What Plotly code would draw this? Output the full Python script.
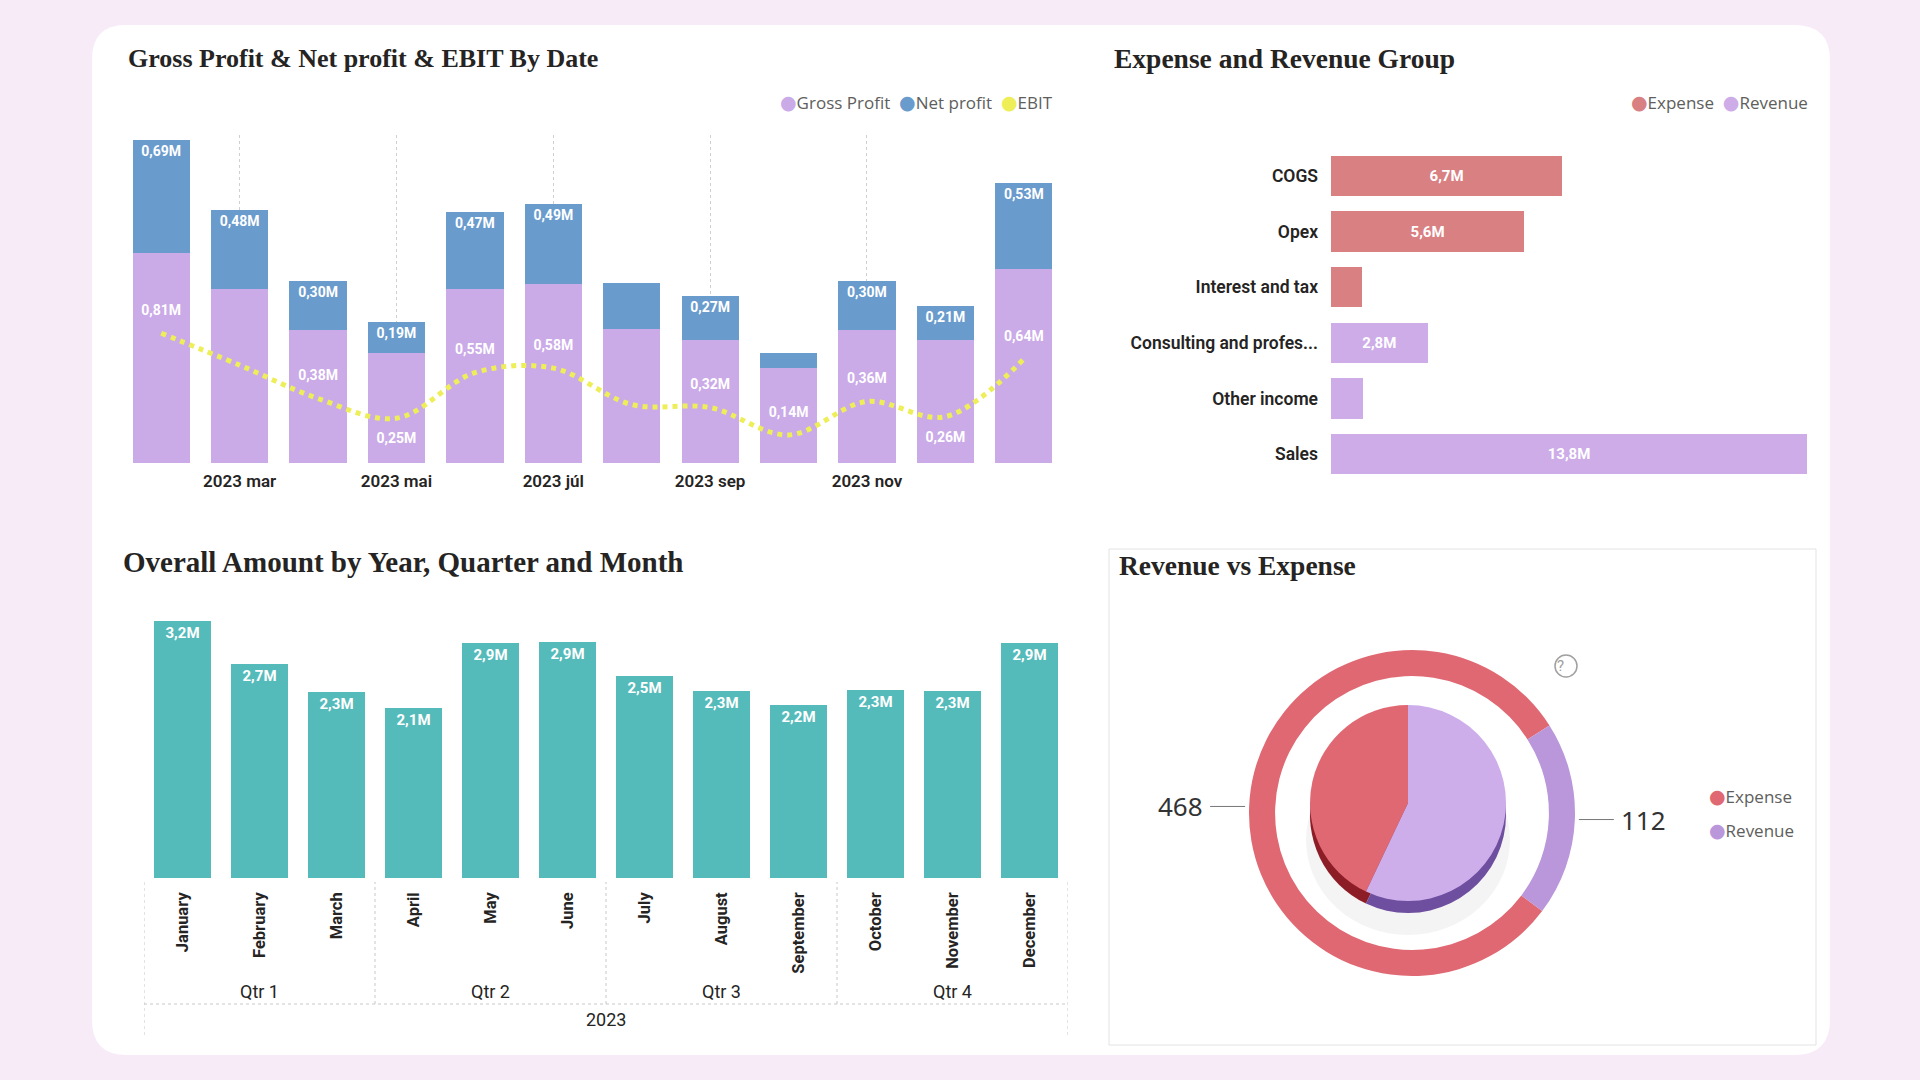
import math
import plotly.graph_objects as go

# ---- DATA ----
month_keys = ["2023-01", "2023-02", "2023-03", "2023-04", "2023-05", "2023-06",
              "2023-07", "2023-08", "2023-09", "2023-10", "2023-11", "2023-12"]
date_tick_labels = ["2023 mar", "2023 mai", "2023 júl", "2023 sep", "2023 nov"]
gross_profit = [1.28, 1.06, 0.81, 0.67, 1.06, 1.09, 0.82, 0.75, 0.58, 0.81, 0.75, 1.18]
net_profit = [0.69, 0.48, 0.30, 0.19, 0.47, 0.49, 0.28, 0.27, 0.09, 0.30, 0.21, 0.53]
net_label_shown = [True, True, True, True, True, True, False, True, False, True, True, True]
ebit = [0.81, 0.60, 0.38, 0.25, 0.55, 0.58, 0.34, 0.32, 0.14, 0.36, 0.26, 0.64]
ebit_label_pos = ["top center", "", "top center", "bottom center", "top center", "top center",
                  "", "top center", "top center", "top center", "bottom center", "top center"]
profit_series = ["Gross Profit", "Net profit", "EBIT"]

groups = ["COGS", "Opex", "Interest and tax", "Consulting and profes...", "Other income", "Sales"]
group_type = ["Expense", "Expense", "Expense", "Revenue", "Revenue", "Revenue"]
group_amount = [6.7, 5.6, 0.89, 2.8, 0.92, 13.8]

month_names = ["January", "February", "March", "April", "May", "June", "July",
               "August", "September", "October", "November", "December"]
quarters = ["Qtr 1", "Qtr 2", "Qtr 3", "Qtr 4"]
year_label = "2023"
overall_amount = [3.20, 2.66, 2.32, 2.12, 2.93, 2.94, 2.52, 2.33, 2.16, 2.34, 2.33, 2.93]

ring_labels = ["Expense", "Revenue"]
ring_values = [468, 112]

# ---- STYLE ----
W, H = 1920, 1080
BG = "#F7EBF8"
C_GROSS = "#CBAAE8"
C_NET = "#6A9BCD"
C_EBIT = "#EEEE58"
C_EXP = "#D98083"
C_REV = "#CDACE8"
C_TEAL = "#55BBBA"
C_RING_EXP = "#E06872"
C_RING_REV = "#BA96DA"
TITLE_FONT = dict(family="Liberation Serif", size=25, color="#252423")
TICK_FONT = "Roboto"
LEG_FONT = dict(family="Open Sans", size=17, color="#605E5C")


def px_x(x):
    return x / W


def px_y(y):
    return 1 - y / H


def legend_text(names, colors, sep="&nbsp;&nbsp;"):
    parts = [f"<span style='color:{c};font-family:DejaVu Sans;font-size:19px'>●</span>{n}"
             for n, c in zip(names, colors)]
    return sep.join(parts)


fig = go.Figure()

# ---- 1. Gross Profit & Net profit & EBIT By Date ----
fig.add_trace(go.Bar(
    x=month_keys, y=gross_profit, name=profit_series[0],
    marker=dict(color=C_GROSS, line=dict(width=0)),
    xaxis="x", yaxis="y", showlegend=False, hoverinfo="skip"))
fig.add_trace(go.Bar(
    x=month_keys, y=net_profit, name=profit_series[1],
    marker=dict(color=C_NET, line=dict(width=0)),
    text=[f"{v:.2f}M".replace(".", ",") if s else "" for v, s in zip(net_profit, net_label_shown)],
    textposition="inside", insidetextanchor="end", textangle=0,
    textfont=dict(family=TICK_FONT, size=14, color="white", weight=700),
    xaxis="x", yaxis="y", showlegend=False, hoverinfo="skip"))
fig.add_trace(go.Scatter(
    x=month_keys, y=ebit, name=profit_series[2], mode="lines+markers+text",
    line=dict(color=C_EBIT, width=5, dash="dot", shape="spline", smoothing=1.0),
    marker=dict(size=22, color="rgba(0,0,0,0)"),
    text=[f"{v:.2f}M".replace(".", ",") if p else "" for v, p in zip(ebit, ebit_label_pos)],
    textposition=[p if p else "top center" for p in ebit_label_pos],
    textfont=dict(family=TICK_FONT, size=14, color="white", weight=700),
    xaxis="x", yaxis="y2", showlegend=False, hoverinfo="skip"))

# ---- 2. Expense and Revenue Group ----
for t, col in [("Expense", C_EXP), ("Revenue", C_REV)]:
    ys = [g for g, k in zip(groups, group_type) if k == t]
    xs = [v for v, k in zip(group_amount, group_type) if k == t]
    fig.add_trace(go.Bar(
        x=xs, y=ys, orientation="h", name=t, marker=dict(color=col, line=dict(width=0)),
        text=[f"{v:.1f}M".replace(".", ",") if v > 2 else "" for v in xs],
        textposition="inside", insidetextanchor="middle", textangle=0,
        textfont=dict(family=TICK_FONT, size=15, color="white", weight=700),
        xaxis="x2", yaxis="y3", showlegend=False, hoverinfo="skip"))

# ---- 3. Overall Amount by Year, Quarter and Month ----
fig.add_trace(go.Bar(
    x=month_names, y=overall_amount, marker=dict(color=C_TEAL, line=dict(width=0)),
    text=[f"{v:.1f}M".replace(".", ",") for v in overall_amount],
    textposition="inside", insidetextanchor="end", textangle=0,
    textfont=dict(family=TICK_FONT, size=15, color="white", weight=700),
    xaxis="x3", yaxis="y4", showlegend=False, hoverinfo="skip"))

# ---- 4. Revenue vs Expense ----
ring_cx, ring_cy, ring_r = 1412, 813, 163
ring_rot = 127
fig.add_trace(go.Pie(
    labels=ring_labels, values=ring_values, hole=0.84, sort=False,
    direction="clockwise", rotation=ring_rot, textinfo="none", showlegend=False,
    marker=dict(colors=[C_RING_EXP, C_RING_REV], line=dict(width=0)),
    domain=dict(x=[px_x(ring_cx - ring_r), px_x(ring_cx + ring_r)],
                y=[px_y(ring_cy + ring_r), px_y(ring_cy - ring_r)]),
    hoverinfo="skip"))

# inner 3D-looking pie: expense vs revenue totals from the group data
inner_vals = [sum(v for v, k in zip(group_amount, group_type) if k == t) for t in ring_labels]
inner_rot = 360 * inner_vals[1] / sum(inner_vals)
pie_cx, pie_cy, pie_r, depth = 1408, 803, 98, 12
for dy, cols in [(depth, ["#8C1C26", "#6E4E9E"]), (0, [C_RING_EXP, "#CDAEEB"])]:
    fig.add_trace(go.Pie(
        labels=ring_labels, values=inner_vals, sort=False, direction="clockwise",
        rotation=inner_rot, textinfo="none", showlegend=False,
        marker=dict(colors=cols, line=dict(width=0)),
        domain=dict(x=[px_x(pie_cx - pie_r), px_x(pie_cx + pie_r)],
                    y=[px_y(pie_cy + dy + pie_r), px_y(pie_cy + dy - pie_r)]),
        hoverinfo="skip"))

# value call-outs on the ring
total = sum(ring_values)
start = ring_rot
annots = []
for lab, v in zip(ring_labels, ring_values):
    mid = math.radians(start + 360 * v / total / 2)
    start += 360 * v / total
    px_pt = ring_cx + (ring_r + 4) * math.sin(mid)
    py_pt = ring_cy - (ring_r + 4) * math.cos(mid)
    left = math.sin(mid) < 0
    annots.append(dict(
        x=px_x(px_pt), y=px_y(py_pt), xref="paper", yref="paper",
        text=str(v), showarrow=True, arrowhead=0, arrowwidth=1, arrowcolor="#777",
        ax=-40 if left else 40, ay=0, xanchor="right" if left else "left",
        startstandoff=5, font=dict(family="Noto Sans", size=26, color="#333333")))

# ---- legends ----
annots.append(dict(x=px_x(1055), y=px_y(102), xref="paper", yref="paper", showarrow=False,
                   xanchor="right", yanchor="middle", font=LEG_FONT,
                   text=legend_text(profit_series, [C_GROSS, C_NET, C_EBIT])))
annots.append(dict(x=px_x(1810), y=px_y(102), xref="paper", yref="paper", showarrow=False,
                   xanchor="right", yanchor="middle", font=LEG_FONT,
                   text=legend_text(["Expense", "Revenue"], [C_EXP, C_REV])))
for i, (n, c) in enumerate(zip(ring_labels, [C_RING_EXP, C_RING_REV])):
    annots.append(dict(x=px_x(1707), y=px_y(796 + 34 * i), xref="paper", yref="paper",
                       showarrow=False, xanchor="left", yanchor="middle", font=LEG_FONT,
                       text=legend_text([n], [c])))

# ---- layout pieces ----
shapes = [
    dict(type="path", xref="paper", yref="paper", layer="below",
         path="M 0.0653,0.9769 Q 0.0479,0.9769 0.0479,0.9444 L 0.0479,0.0556 "
              "Q 0.0479,0.0231 0.0661,0.0231 L 0.9344,0.0231 Q 0.9531,0.0231 0.9531,0.0556 "
              "L 0.9531,0.9444 Q 0.9531,0.9769 0.9344,0.9769 Z",
         fillcolor="white", line=dict(width=0)),
    dict(type="rect", xref="paper", yref="paper", layer="below",
         x0=px_x(1109), x1=px_x(1816), y0=px_y(1045), y1=px_y(549),
         fillcolor="white", line=dict(color="#E3E3E3", width=1)),
    dict(type="circle", xref="paper", yref="paper", layer="below",
         x0=px_x(pie_cx - pie_r - 4), x1=px_x(pie_cx + pie_r + 4),
         y0=px_y(pie_cy + pie_r + 34), y1=px_y(pie_cy - pie_r + 40),
         fillcolor="rgba(0,0,0,0.045)", line=dict(width=0)),
    dict(type="circle", xref="paper", yref="paper",
         x0=px_x(1555), x1=px_x(1577), y0=px_y(677), y1=px_y(655),
         line=dict(color="#A0A0A0", width=1.5)),
]

# dotted separators for the hierarchical month axis
bounds = [-0.5, 2.5, 5.5, 8.5, 11.5]
for i, b in enumerate(bounds):
    outer = i in (0, len(bounds) - 1)
    shapes.append(dict(type="line", xref="x3", yref="paper", x0=b, x1=b,
                       y0=px_y(1035 if outer else 1004), y1=px_y(882),
                       line=dict(color="#C8C8C8", width=1, dash="dot")))
shapes.append(dict(type="line", xref="x3", yref="paper", x0=-0.5, x1=11.5,
                   y0=px_y(1004), y1=px_y(1004),
                   line=dict(color="#C8C8C8", width=1, dash="dot")))

for qi, q in enumerate(quarters):
    annots.append(dict(x=qi * 3 + 1, y=px_y(991), xref="x3", yref="paper", text=q,
                       showarrow=False, yanchor="middle",
                       font=dict(family=TICK_FONT, size=18, color="#252423")))
annots.append(dict(x=5.5, y=px_y(1019), xref="x3", yref="paper", text=year_label,
                   showarrow=False, yanchor="middle",
                   font=dict(family=TICK_FONT, size=18, color="#252423")))
annots.append(dict(x=px_x(1566), y=px_y(666), xref="paper", yref="paper", text="?",
                   showarrow=False, yanchor="middle",
                   font=dict(family="Roboto", size=15, color="#A0A0A0")))

titles = [
    ("Gross Profit & Net profit & EBIT By Date", 126, 59, 26),
    ("Expense and Revenue Group", 1112, 59, 27.5),
    ("Overall Amount by Year, Quarter and Month", 121, 562, 29),
    ("Revenue vs Expense", 1117, 565, 27.5),
]
for txt, x, y, s in titles:
    annots.append(dict(x=px_x(x), y=px_y(y), xref="paper", yref="paper", text=f"<b>{txt}</b>",
                       showarrow=False, xanchor="left", yanchor="middle",
                       font=dict(TITLE_FONT, size=s)))

fig.update_layout(
    width=W, height=H, margin=dict(l=0, r=0, t=0, b=0),
    paper_bgcolor=BG, plot_bgcolor="rgba(0,0,0,0)", showlegend=False,
    separators=",.", barmode="stack", bargap=0.27,
    shapes=shapes, annotations=annots,
    xaxis=dict(domain=[px_x(122), px_x(1063)], type="category", range=[-0.5, 11.5],
               categoryorder="array", categoryarray=month_keys,
               tickvals=month_keys[1:11:2], ticktext=date_tick_labels,
               showgrid=True, gridcolor="#CFCFCF", griddash="dot", gridwidth=1,
               ticks="", showline=False, zeroline=False, ticklabelstandoff=6,
               tickfont=dict(family=TICK_FONT, size=17, color="#252423", weight=600)),
    yaxis=dict(domain=[px_y(463), px_y(135)], range=[0, 2.0], visible=False),
    yaxis2=dict(overlaying="y", range=[-0.045, 2.116], visible=False),
    xaxis2=dict(domain=[px_x(1331), px_x(1807)], range=[0, 13.8], visible=False),
    yaxis3=dict(domain=[px_y(482), px_y(148)], type="category", anchor="x2",
                categoryorder="array", categoryarray=groups, autorange="reversed",
                showgrid=False, ticks="", ticklabelstandoff=12,
                tickfont=dict(family=TICK_FONT, size=17.5, color="#252423", weight=600)),
    xaxis3=dict(domain=[px_x(144), px_x(1068)], type="category", anchor="y4",
                categoryorder="array", categoryarray=month_names, range=[-0.5, 11.5],
                tickangle=-90, ticks="", showgrid=False, ticklabelstandoff=10,
                tickfont=dict(family=TICK_FONT, size=16.5, color="#252423", weight=700)),
    yaxis4=dict(domain=[px_y(878), px_y(613)], range=[0, 3.3], visible=False, anchor="x3"),
)

fig.write_html("out.html", config={"displayModeBar": False},
               post_script="document.body.style.margin='0';document.body.style.overflow='hidden';")
